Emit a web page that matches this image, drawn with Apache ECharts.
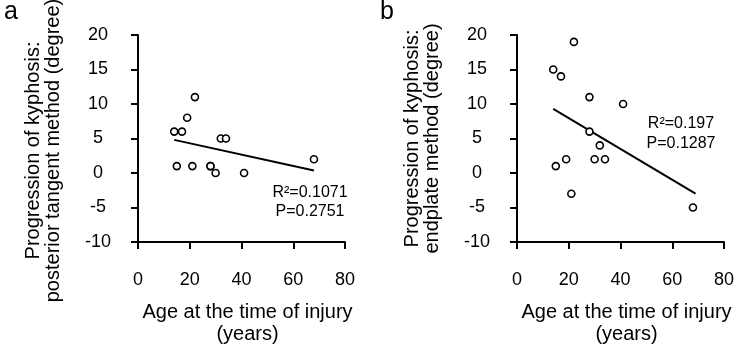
<!DOCTYPE html>
<html>
<head>
<meta charset="utf-8">
<script src="https://cdn.jsdelivr.net/npm/echarts@6/dist/echarts.min.js"></script>
<style>
html, body { margin: 0; padding: 0; background: #fff; }
#chart { width: 734px; height: 348px; }
</style>
</head>
<body>
<div id="chart"></div>
<script>
// age at injury (years), one per patient
const ages = [14, 15, 17, 19, 21, 22, 28, 28, 30, 32, 34, 41, 68]
// progression of kyphosis (degree)
const posteriorTangent = [6, 1, 6, 8, 1, 11, 1, 1, 0, 5, 5, 0, 2]
const endplate = [15, 1, 14, 2, -3, 19, 11, 6, 2, 4, 2, 10, -5]

// regression lines, end points
const fitAx = [14, 68]
const fitAy = [4.8, 0.35]
const fitBx = [14, 69]
const fitBy = [9.3, -3]

const statsA = ['R²=0.1071', 'P=0.2751']
const statsB = ['R²=0.197', 'P=0.1287']

const xTickValues = [0, 20, 40, 60, 80]
const yTickValues = [-10, -5, 0, 5, 10, 15, 20]

const FONT = '"Liberation Sans", Arial, sans-serif'
const INK = '#000'
const TICK = 7

const chart = echarts.init(document.getElementById('chart'))

const pairs = (xs, ys) => xs.map((x, i) => [x, ys[i]])
const first = a => a[0]
const last = a => a[a.length - 1]

function xAxisFor(gridIndex) {
  return {
    gridIndex,
    type: 'value',
    min: first(xTickValues),
    max: last(xTickValues),
    interval: xTickValues[1] - xTickValues[0],
    name: 'Age at the time of injury\n(years)',
    nameLocation: 'middle',
    nameGap: 59,
    nameTextStyle: { fontFamily: FONT, fontSize: 20, color: INK, lineHeight: 22, padding: [0, 0, 0, 12] },
    axisLine: { show: true, onZero: false, lineStyle: { color: INK, width: 2 } },
    axisTick: { show: true, length: TICK, lineStyle: { color: INK, width: 2 } },
    axisLabel: { fontFamily: FONT, fontSize: 18, color: INK, margin: 29 },
    splitLine: { show: false }
  }
}

function yAxisFor(gridIndex, name, shift) {
  return {
    gridIndex,
    type: 'value',
    min: first(yTickValues),
    max: last(yTickValues),
    interval: yTickValues[1] - yTickValues[0],
    name,
    nameLocation: 'middle',
    nameRotate: 90,
    nameGap: 75,
    nameTextStyle: { fontFamily: FONT, fontSize: 20, color: INK, lineHeight: 20, padding: [0, shift, 0, 0] },
    axisLine: { show: true, onZero: false, lineStyle: { color: INK, width: 2 } },
    axisTick: { show: true, length: TICK, lineStyle: { color: INK, width: 2 } },
    axisLabel: { fontFamily: FONT, fontSize: 18, color: INK, margin: 40, align: 'center' },
    splitLine: { show: false }
  }
}

function scatter(i, ys) {
  return {
    type: 'scatter',
    xAxisIndex: i,
    yAxisIndex: i,
    data: pairs(ages, ys),
    symbol: 'circle',
    symbolSize: 7,
    itemStyle: { color: '#fff', borderColor: INK, borderWidth: 1.6, opacity: 1 },
    z: 3
  }
}

function fitLine(i, xs, ys) {
  return {
    type: 'line',
    xAxisIndex: i,
    yAxisIndex: i,
    data: pairs(xs, ys),
    showSymbol: false,
    symbol: 'none',
    lineStyle: { color: INK, width: 2 },
    z: 2
  }
}

const option = {
  animation: false,
  backgroundColor: '#fff',
  grid: [
    { left: 138, top: 35, width: 207, height: 207, outerBoundsMode: 'none' },
    { left: 517, top: 35, width: 207, height: 207, outerBoundsMode: 'none' }
  ],
  xAxis: [xAxisFor(0), xAxisFor(1)],
  yAxis: [
    yAxisFor(0, 'Progression of kyphosis:\nposterior tangent method (degree)', 24),
    yAxisFor(1, 'Progression of kyphosis:\nendplate method (degree)', 0)
  ],
  series: [
    fitLine(0, fitAx, fitAy),
    scatter(0, posteriorTangent),
    fitLine(1, fitBx, fitBy),
    scatter(1, endplate)
  ],
  graphic: [
    { type: 'text', left: 4, top: 0, style: { text: 'a', font: '25px ' + FONT, fill: INK } },
    { type: 'text', left: 380, top: 0, style: { text: 'b', font: '25px ' + FONT, fill: INK } },
    {
      type: 'text', x: 310, y: 202, style: {
        text: statsA.join('\n'), font: '16px ' + FONT, fill: INK,
        lineHeight: 19, align: 'center', verticalAlign: 'middle'
      }
    },
    {
      type: 'text', x: 681, y: 134, style: {
        text: statsB.join('\n'), font: '16px ' + FONT, fill: INK,
        lineHeight: 20, align: 'center', verticalAlign: 'middle'
      }
    }
  ]
}

chart.setOption(option)
</script>
</body>
</html>
